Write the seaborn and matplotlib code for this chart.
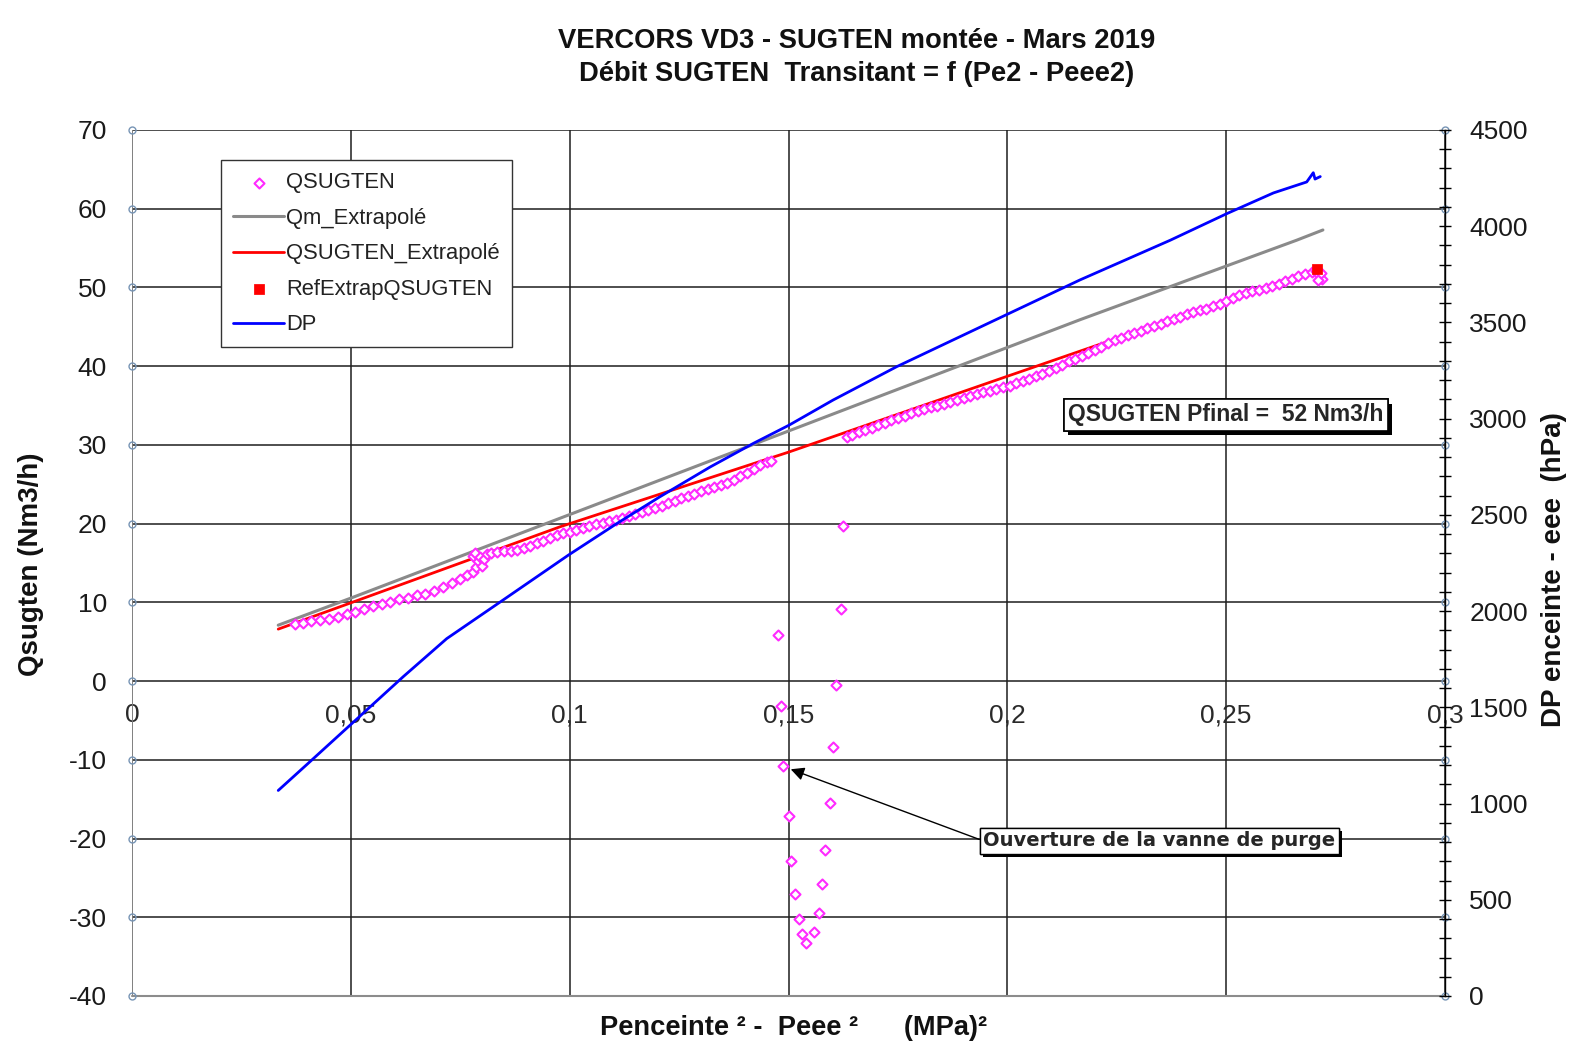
import numpy as np
import pandas as pd
import seaborn as sns
import matplotlib.pyplot as plt
import matplotlib.patheffects as pe
from matplotlib.ticker import MultipleLocator, FuncFormatter


# QSUGTEN measured points (x = Penceinte^2 - Peee^2 in MPa^2, y = Nm3/h)
q_x = [0.0372, 0.0390, 0.0410, 0.0430, 0.0450, 0.0470, 0.0490, 0.0510, 0.0530, 0.0550,
       0.0570, 0.0590, 0.0610, 0.0630, 0.0650, 0.0670, 0.0690, 0.0710, 0.0730, 0.0750,
       0.0765, 0.0780, 0.0785, 0.0790, 0.0778, 0.0783, 0.0795, 0.0800, 0.0805, 0.0810,
       0.0820, 0.0835, 0.0850, 0.0865, 0.0880, 0.0895, 0.0910, 0.0925, 0.0940, 0.0955,
       0.0970, 0.0985, 0.1000, 0.1015, 0.1030, 0.1045, 0.1060, 0.1075, 0.1090, 0.1105,
       0.1120, 0.1135, 0.1150, 0.1165, 0.1180, 0.1195, 0.1210, 0.1225, 0.1240, 0.1255,
       0.1270, 0.1285, 0.1300, 0.1315, 0.1330, 0.1345, 0.1360, 0.1375, 0.1390, 0.1405,
       0.1420, 0.1435, 0.1450, 0.1460,
       # purge valve opening
       0.1475, 0.1482, 0.1488, 0.1500, 0.1506, 0.1515, 0.1524, 0.1530, 0.1539, 0.1559,
       0.1570, 0.1577, 0.1583, 0.1595, 0.1601, 0.1608, 0.1619, 0.1625,
       0.1633, 0.1645, 0.1660, 0.1675, 0.1690, 0.1705, 0.1720, 0.1735, 0.1750, 0.1765,
       0.1780, 0.1795, 0.1810, 0.1825, 0.1840, 0.1855, 0.1870, 0.1885, 0.1900, 0.1915,
       0.1930, 0.1945, 0.1960, 0.1975, 0.1990, 0.2005, 0.2020, 0.2035, 0.2050, 0.2065,
       0.2080, 0.2095, 0.2110, 0.2125, 0.2140, 0.2155, 0.2170, 0.2185, 0.2200, 0.2215,
       0.2230, 0.2245, 0.2260, 0.2275, 0.2290, 0.2305, 0.2320, 0.2335, 0.2350, 0.2365,
       0.2380, 0.2395, 0.2410, 0.2425, 0.2440, 0.2455, 0.2470, 0.2485, 0.2500, 0.2515,
       0.2530, 0.2545, 0.2560, 0.2575, 0.2590, 0.2605, 0.2620, 0.2635, 0.2650, 0.2665,
       0.2680, 0.2695, 0.2705, 0.2712, 0.2718, 0.2710, 0.2716]
q_y = [7.2, 7.4, 7.6, 7.7, 7.9, 8.2, 8.5, 8.8, 9.1, 9.5,
       9.8, 10.1, 10.4, 10.6, 10.9, 11.1, 11.5, 12.0, 12.5, 13.0,
       13.5, 13.9, 14.5, 15.2, 15.9, 16.3, 15.8, 14.6, 15.5, 16.2,
       16.3, 16.4, 16.5, 16.5, 16.7, 16.9, 17.2, 17.5, 17.8, 18.2,
       18.5, 18.8, 19.0, 19.2, 19.5, 19.7, 19.9, 20.1, 20.3, 20.5,
       20.7, 21.0, 21.2, 21.5, 21.7, 22.0, 22.3, 22.6, 22.9, 23.2,
       23.5, 23.8, 24.1, 24.4, 24.6, 24.9, 25.2, 25.6, 26.0, 26.4,
       26.9, 27.4, 27.8, 28.0,
       5.8, -3.2, -10.8, -17.2, -22.8, -27.1, -30.2, -32.1, -33.3, -31.9,
       -29.4, -25.8, -21.4, -15.5, -8.4, -0.5, 9.1, 19.7,
       31.0, 31.2, 31.6, 31.9, 32.2, 32.5, 32.8, 33.1, 33.4, 33.7,
       34.0, 34.3, 34.5, 34.8, 35.0, 35.2, 35.5, 35.7, 36.0, 36.2,
       36.5, 36.7, 36.9, 37.1, 37.3, 37.5, 37.8, 38.1, 38.4, 38.7,
       39.0, 39.4, 39.8, 40.2, 40.6, 40.9, 41.3, 41.7, 42.0, 42.4,
       42.9, 43.3, 43.6, 43.9, 44.2, 44.5, 44.8, 45.1, 45.4, 45.7,
       46.0, 46.3, 46.6, 46.9, 47.1, 47.3, 47.6, 47.9, 48.3, 48.6,
       49.0, 49.3, 49.5, 49.7, 49.9, 50.2, 50.5, 50.8, 51.1, 51.4,
       51.7, 51.9, 52.1, 51.6, 51.1, 50.9, 51.8]

# Qm_Extrapolé
qm_x = [0.0334, 0.0498, 0.2166, 0.2661, 0.2721]
qm_y = [7.1, 10.5, 45.9, 56.0, 57.3]

# QSUGTEN_Extrapolé
qe_x = [0.0334, 0.0498, 0.0978, 0.1501, 0.1999, 0.2707]
qe_y = [6.6, 9.9, 19.6, 29.1, 38.7, 52.3]

# RefExtrapQSUGTEN
ref_x = [0.2707]
ref_y = [52.3]

# DP enceinte - eee (hPa), right axis
dp_x = [0.0334, 0.0399, 0.0498, 0.0620, 0.0719, 0.0848, 0.0997, 0.1107, 0.1206, 0.1321,
        0.1420, 0.1501, 0.1602, 0.1680, 0.1747, 0.1953, 0.2166, 0.2372, 0.2502, 0.2608,
        0.2684, 0.2699, 0.2703, 0.2715]
dp_y = [1068, 1202, 1407, 1660, 1857, 2058, 2291, 2454, 2594, 2749,
        2872, 2966, 3097, 3190, 3270, 3492, 3721, 3927, 4066, 4173,
        4230, 4278, 4245, 4258]

# purge annotation target
purge_xy = (0.1505, -11.2)

sns.set_theme(style='white')
plt.rcParams['font.family'] = ['Liberation Sans', 'DejaVu Sans']
plt.rcParams['axes.unicode_minus'] = False

fig = plt.figure(figsize=(15.93, 10.45), dpi=100)
ax = fig.add_axes([0.0829, 0.0469, 0.8242, 0.8287])
ax2 = ax.twinx()

ax.set_xlim(0, 0.3)
ax.set_ylim(-40, 70)
ax2.set_ylim(0, 4500)

grid_col = '#1e1e1e'
ax.xaxis.set_major_locator(MultipleLocator(0.05))
ax.yaxis.set_major_locator(MultipleLocator(10))
ax.grid(True, color=grid_col, lw=1.1)
ax.set_axisbelow(True)

# lines
sns.lineplot(x=qm_x, y=qm_y, ax=ax, color='#8a8a8a', lw=2.2, sort=False,
             estimator=None, label='Qm_Extrapolé', zorder=3)
sns.lineplot(x=qe_x, y=qe_y, ax=ax, color='#ff0000', lw=2.0, sort=False,
             estimator=None, label='QSUGTEN_Extrapolé', zorder=3)
sns.scatterplot(x=q_x, y=q_y, ax=ax, marker='D', s=26, facecolor='white',
                edgecolor='#ff2bff', linewidth=1.5, label='QSUGTEN', zorder=4)
sns.scatterplot(x=ref_x, y=ref_y, ax=ax, marker='s', s=45, color='#ff0000',
                edgecolor='#ff0000', label='RefExtrapQSUGTEN', zorder=5)
sns.lineplot(x=dp_x, y=dp_y, ax=ax2, color='#0000ff', lw=2.0, sort=False,
             estimator=None, label='DP', zorder=3)

# spines / ticks
for s in ['left', 'right', 'top']:
    ax.spines[s].set_visible(False)
ax.spines['bottom'].set_position(('data', 0))
ax.spines['bottom'].set_visible(False)
for s in ['left', 'top', 'bottom']:
    ax2.spines[s].set_visible(False)
ax2.spines['right'].set_color('black')
ax2.spines['right'].set_linewidth(1.0)
ax.axvline(ax.get_xlim()[0], color='#8c8c8c', lw=1.2, zorder=1)
ax.axhline(ax.get_ylim()[0], color='#8c8c8c', lw=1.5, clip_on=False, zorder=1)

ax.xaxis.set_major_formatter(FuncFormatter(lambda v, p: '{:g}'.format(round(v, 4)).replace('.', ',')))
ax.tick_params(axis='x', length=0, pad=16, labelsize=19, labelcolor='#2a2a2a')
ax.tick_params(axis='y', length=0, pad=18, labelsize=19, labelcolor='#1a1a1a')
ax2.yaxis.set_major_locator(MultipleLocator(500))
ax2.yaxis.set_minor_locator(MultipleLocator(100))
ax2.tick_params(axis='y', which='both', direction='inout', length=9, width=1.0,
                color='black', pad=13, labelsize=19, labelcolor='#1a1a1a')

# small circle markers at the ends of the horizontal grid lines
yt = [t for t in ax.get_yticks() if -40 <= t <= 70]
for xe in ax.get_xlim():
    ax.plot([xe] * len(yt), yt, 'o', ms=5, mfc='none', mec='#7795b5', mew=1.0,
            clip_on=False, zorder=6)

# legend
h1, l1 = ax.get_legend_handles_labels()
h2, l2 = ax2.get_legend_handles_labels()
hd = dict(zip(l1 + l2, h1 + h2))
order = ['QSUGTEN', 'Qm_Extrapolé', 'QSUGTEN_Extrapolé', 'RefExtrapQSUGTEN', 'DP']
if ax.get_legend():
    ax.get_legend().remove()
leg = ax2.legend([hd[k] for k in order], order, loc='upper left',
                 bbox_to_anchor=(0.068, 0.965), borderaxespad=0, fontsize=15.8,
                 frameon=True, fancybox=False, framealpha=1, edgecolor='#333333',
                 handlelength=2.3, handletextpad=0.1, labelspacing=0.66, borderpad=0.55)
leg.get_frame().set_linewidth(1.0)
for t in leg.get_texts():
    t.set_color('#222222')

# text boxes
t1 = ax.text(0.2139, 33.8, f'QSUGTEN Pfinal =  {ref_y[0]:.0f} Nm3/h', fontsize=16.5,
             fontweight='bold', ha='left', va='center', zorder=7,
             bbox=dict(boxstyle='square,pad=0.18', fc='white', ec='black', lw=1.2))
t1.get_bbox_patch().set_path_effects([pe.withSimplePatchShadow(offset=(3, -3), shadow_rgbFace='black', alpha=1),
                                      pe.Normal()])

t2 = ax.annotate('Ouverture de la vanne de purge', xy=purge_xy, xytext=(0.1945, -20.3),
                 fontsize=14, fontweight='bold', family='DejaVu Sans', ha='left', va='center',
                 zorder=7,
                 bbox=dict(boxstyle='square,pad=0.18', fc='white', ec='black', lw=1.0),
                 arrowprops=dict(arrowstyle='-|>', color='black', lw=1.0, mutation_scale=20,
                                 relpos=(0, 0.5), shrinkA=0, shrinkB=0))
t2.get_bbox_patch().set_path_effects([pe.withSimplePatchShadow(offset=(2, -2), shadow_rgbFace='black', alpha=1),
                                      pe.Normal()])

# titles and axis labels
fig.text(0.538, 0.961, 'VERCORS VD3 - SUGTEN montée - Mars 2019', ha='center', va='center',
         fontsize=19.7, fontweight='bold', color='#111111')
fig.text(0.538, 0.929, 'Débit SUGTEN  Transitant = f (Pe2 - Peee2)', ha='center', va='center',
         fontsize=19.7, fontweight='bold', color='#111111')
fig.text(0.4984, 0.0163, 'Penceinte ² -  Peee ²      (MPa)²', ha='center', va='center',
         fontsize=19.6, fontweight='bold', color='#111111')
fig.text(0.0192, 0.46, 'Qsugten (Nm3/h)', rotation=90, ha='center', va='center',
         fontsize=20, fontweight='bold', color='#111111')
fig.text(0.9755, 0.455, 'DP enceinte - eee  (hPa)', rotation=90, ha='center', va='center',
         fontsize=20, fontweight='bold', color='#111111')

fig.savefig('out.png', dpi=100)
